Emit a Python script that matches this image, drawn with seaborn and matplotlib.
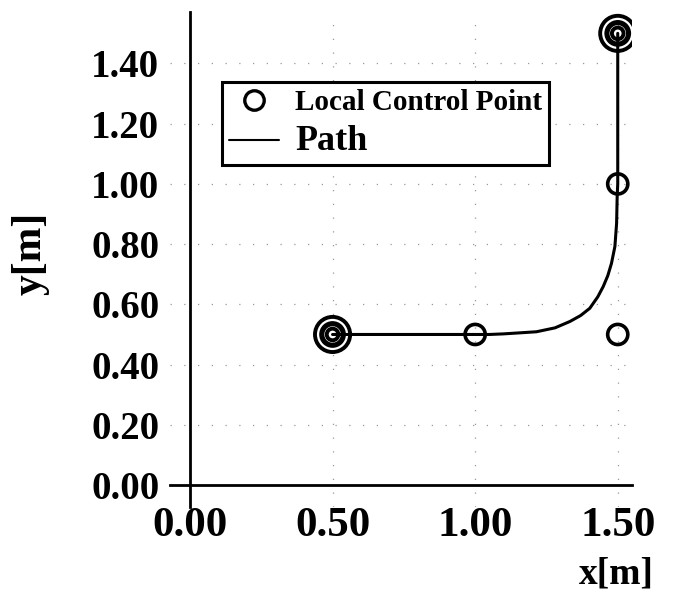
import seaborn as sns
import matplotlib.pyplot as plt
from matplotlib.lines import Line2D
import pandas as pd

# local control points
ctrl_x = [0.50, 1.00, 1.50, 1.50, 1.50]
ctrl_y = [0.50, 0.50, 0.50, 1.00, 1.50]
# start / goal (drawn as bullseye)
end_x = [0.50, 1.50]
end_y = [0.50, 1.50]
# path
path_x = [0.50, 1.00, 1.05, 1.10, 1.15, 1.215, 1.28, 1.332, 1.37, 1.402, 1.43,
          1.449, 1.465, 1.478, 1.49, 1.496, 1.498, 1.50, 1.50]
path_y = [0.50, 0.50, 0.500, 0.502, 0.505, 0.509, 0.522, 0.543, 0.563, 0.587, 0.625,
          0.659, 0.695, 0.736, 0.792, 0.869, 0.958, 1.00, 1.50]
x_ticks = [0.0, 0.5, 1.0, 1.5]
y_ticks = [0.0, 0.2, 0.4, 0.6, 0.8, 1.0, 1.2, 1.4]

sns.set_theme(style='white')
plt.rcParams['font.family'] = ['Liberation Serif', 'DejaVu Serif']
plt.rcParams['font.weight'] = 'bold'
plt.rcParams['text.color'] = 'black'
plt.rcParams['xtick.color'] = 'black'
plt.rcParams['ytick.color'] = 'black'

fig = plt.figure(figsize=(6.78, 5.97), dpi=100)
ax = fig.add_axes([170/678, 90/597, (632-170)/678, (507-12)/597])

df_path = pd.DataFrame({'x': path_x, 'y': path_y})
df_ctrl = pd.DataFrame({'x': ctrl_x, 'y': ctrl_y})
df_end = pd.DataFrame({'x': end_x, 'y': end_y})

sns.lineplot(data=df_path, x='x', y='y', sort=False, estimator=None, color='black',
             lw=2.2, ax=ax, zorder=3)
# hollow circles, the path shows through them
sns.scatterplot(data=df_ctrl, x='x', y='y', marker='o', s=210, facecolor='none',
                edgecolor='black', linewidth=2.6, ax=ax, zorder=4)
# bullseye rings at start and goal
for sz in [640, 270, 70]:
    sns.scatterplot(data=df_end, x='x', y='y', marker='o', s=sz, facecolor='none',
                    edgecolor='black', linewidth=2.8, ax=ax, zorder=5)

ax.set_xlim(-0.07, 1.55)
ax.set_ylim(-0.073, 1.571)
ax.spines['left'].set_position(('data', 0))
ax.spines['bottom'].set_position(('data', 0))
ax.spines['right'].set_visible(False)
ax.spines['top'].set_visible(False)
for s in ['left', 'bottom']:
    ax.spines[s].set_color('black')
    ax.spines[s].set_linewidth(2)

ax.set_xticks(x_ticks)
ax.set_yticks(y_ticks)
ax.set_xticklabels(['%.2f' % v for v in x_ticks], fontsize=31, fontweight='bold')
ax.set_yticklabels(['%.2f' % v for v in y_ticks], fontsize=28, fontweight='bold')
ax.tick_params(axis='x', length=0, pad=16)
ax.tick_params(axis='y', length=0, pad=22)
ax.grid(True, color='#999999', linestyle=(0, (1, 10)), linewidth=0.9)
ax.set_xlabel('')
ax.set_ylabel('')

fig.text(616/678, 1-574/597, 'x[m]', fontsize=27, fontweight='bold', ha='center', va='center')
fig.text(31/678, 1-253/597, 'y[m]', fontsize=30, fontweight='bold', ha='center', va='center',
         rotation=90)

handles = [Line2D([], [], marker='o', ls='none', markersize=14, markerfacecolor='white',
                  markeredgecolor='black', markeredgewidth=2.4),
           Line2D([], [], color='black', lw=1.5)]
leg = ax.legend(handles=handles, labels=['Local Control Point', 'Path'],
                loc='upper left', bbox_to_anchor=(222/678, 1-82/597),
                bbox_transform=fig.transFigure, borderaxespad=0, fancybox=False,
                edgecolor='black', framealpha=1, fontsize=21, handlelength=1.7,
                handletextpad=0.55, borderpad=0.25, labelspacing=0.3)
leg.get_frame().set_linewidth(2.2)
leg.get_texts()[1].set_fontsize(26)

fig.savefig('out.png', dpi=100)
